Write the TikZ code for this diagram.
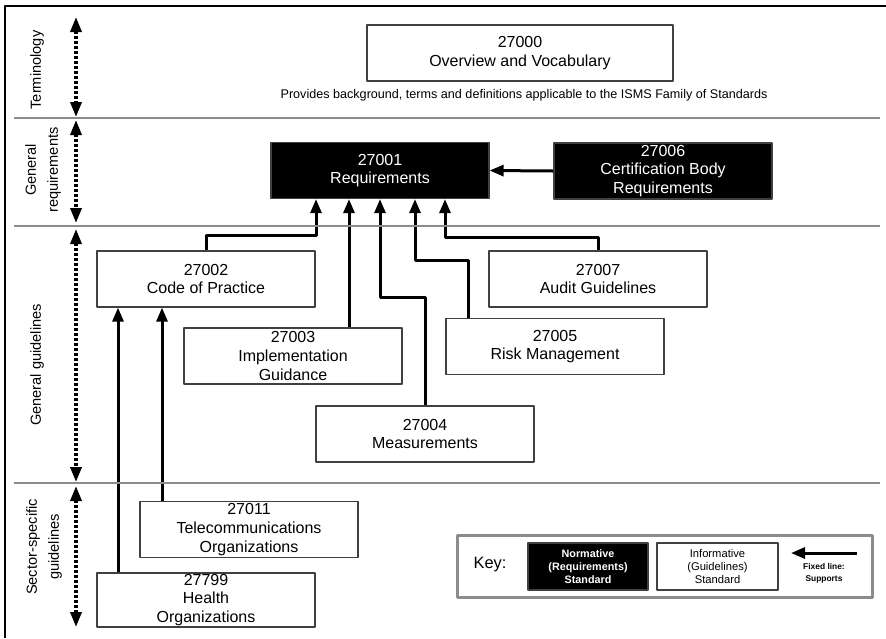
\documentclass[tikz,border=0pt]{standalone}
\usepackage{fontspec}
\setmainfont{Liberation Sans}
\usetikzlibrary{arrows.meta}
\usetikzlibrary{calc}

\begin{document}
\begin{tikzpicture}[x=0.5pt,y=-0.5pt,>=Triangle,line join=round]
% -------------------------------------------------
% Styles
% -------------------------------------------------
\tikzset{
  stdbox/.style={draw=black!75, line width=0.6pt, fill=white, minimum width=109pt, minimum height=28pt, inner sep=0pt, align=center, font=\fontsize{8}{9.3}\selectfont},
  normbox/.style={stdbox, fill=black, text=white},
  support/.style={-{Triangle[length=7pt,width=5.5pt]}, line width=1.5pt},
  band/.style={draw=black!45, line width=1pt},
  levelarrow/.style={{Triangle[length=7.5pt,width=5.5pt]}-{Triangle[length=7.5pt,width=5.5pt]}, line width=1.7pt, dash pattern=on 1.5pt off 1pt},
  sidelabel/.style={rotate=90, align=center, font=\fontsize{7.3}{11}\selectfont},
}
\useasboundingbox (0,0) rectangle (886,638);
% -------------------------------------------------
% frame
% -------------------------------------------------
\draw[line width=1.2pt] (5,638) -- (5,6) -- (886,6);
% -------------------------------------------------
% TERMINOLOGY
% -------------------------------------------------
\node[stdbox, minimum width=153pt] (s27000) at (520,53) {27000\\Overview and Vocabulary};
\node[font=\fontsize{6.3}{7}\selectfont] (subtitle) at (524,95) {Provides background, terms and definitions applicable to the ISMS Family of Standards};
% -------------------------------------------------
% GENERAL REQUIREMENTS
% -------------------------------------------------
\node[normbox] (s27001) at (380,170.5) {27001\\Requirements};
\node[normbox] (s27006) at (663,171) {27006\\Certification Body\\Requirements};
% -------------------------------------------------
% GENERAL GUIDELINES
% -------------------------------------------------
\node[stdbox] (s27002) at (206,279) {27002\\Code of Practice};
\node[stdbox] (s27007) at (598,279) {27007\\Audit Guidelines};
\node[stdbox] (s27003) at (293,356) {27003\\Implementation\\Guidance};
\node[stdbox] (s27005) at (555,346.5) {27005\\Risk Management};
\node[stdbox] (s27004) at (425,434) {27004\\Measurements};
% -------------------------------------------------
% SECTOR-SPECIFIC GUIDELINES
% -------------------------------------------------
\node[stdbox] (s27011) at (249,529.5) {27011\\Telecommunications\\Organizations};
\node[stdbox, minimum height=27pt] (s27799) at (206,600) {27799\\Health\\Organizations};

% supports
\draw[support] (s27006.west) -- (s27001.east);
\draw[support] (s27002.north) |- ($(s27001.south)+(-64,36)$) -- ($(s27001.south)+(-64,0)$);
\draw[support] ($(s27003.north)+(56,0)$) -- ($(s27001.south)+(-31,0)$);
\draw[support] (s27004.north) |- ($(s27001.south)+(0,98)$) -- (s27001.south);
\draw[support] ($(s27005.north)+(-87,0)$) |- ($(s27001.south)+(35,61)$) -- ($(s27001.south)+(35,0)$);
\draw[support] (s27007.north) |- ($(s27001.south)+(65,38)$) -- ($(s27001.south)+(65,0)$);
\draw[support] ($(s27011.north)+(-87,0)$) -- ($(s27002.south)+(-44,0)$);
\draw[support] ($(s27799.north)+(-88,0)$) -- ($(s27002.south)+(-88,0)$);

% band lines
\foreach \y in {118,226,483}{
  \draw[band] (14,\y) -- (880,\y);
}
% -------------------------------------------------
% levels at left
% -------------------------------------------------
\foreach \ya/\yb [count=\i] in {17/117,120/223,229/482,486/627}{
  \coordinate (lvtop\i) at (76,\ya);
  \coordinate (lvbot\i) at (76,\yb);
  \draw[levelarrow] (lvtop\i) -- (lvbot\i);
}
\node[sidelabel] (lterm) at (37,70) {Terminology};
\node[sidelabel] (lgenreq) at (43,170) {General\\requirements};
\node[sidelabel] (lgenguide) at (37,365) {General guidelines};
\node[sidelabel] (lsector) at (44,547) {Sector-specific\\guidelines};
% -------------------------------------------------
% KEY
% -------------------------------------------------
\draw[draw=black!45, line width=1.5pt] (457,535) rectangle (872,597);
\node[font=\fontsize{8.2}{9}\selectfont] (keylabel) at (490,565) {Key:};
\node[normbox, minimum width=60pt, minimum height=23.5pt, font=\bfseries\fontsize{5.4}{6.5}\selectfont] (knorm) at (588,566.5) {Normative\\(Requirements)\\Standard};
\node[stdbox, minimum width=60.5pt, minimum height=23.5pt, font=\fontsize{5.6}{6.5}\selectfont] (kinfo) at (717.5,566.5) {Informative\\(Guidelines)\\Standard};
\coordinate (karrowA) at (857,553);
\coordinate (karrowB) at (791,553);
\draw[support] (karrowA) -- (karrowB);
\node[font=\bfseries\fontsize{4.2}{6}\selectfont, align=center] (kfixed) at (824,573) {Fixed line:\\Supports};

\end{tikzpicture}
\end{document}
